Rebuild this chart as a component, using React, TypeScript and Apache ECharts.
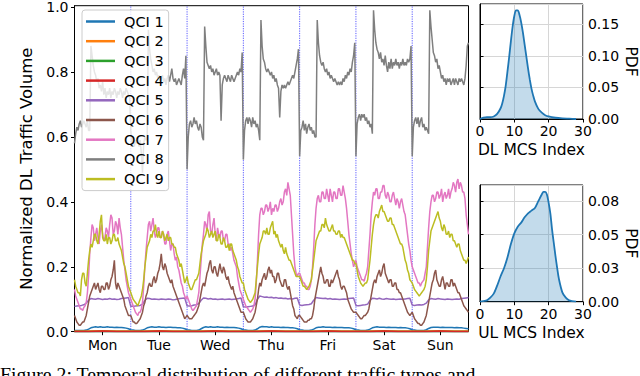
import React, { useEffect, useRef } from 'react';
import * as echarts from 'echarts';

const DAYS = ['Mon', 'Tue', 'Wed', 'Thu', 'Fri', 'Sat', 'Sun'];
const DAY_CENTERS = [12, 36, 60, 84, 108, 132, 156];
const DAY_BOUNDS = [24, 48, 72, 96, 120, 144];
const QCI_NAMES = ['QCI 1', 'QCI 2', 'QCI 3', 'QCI 4', 'QCI 5', 'QCI 6', 'QCI 7', 'QCI 8', 'QCI 9'];
const COLORS = ['#1f77b4', '#ff7f0e', '#2ca02c', '#d62728', '#9467bd', '#8c564b', '#e377c2', '#7f7f7f', '#bcbd22'];
const MAIN_Y_TICKS = [0, 0.2, 0.4, 0.6, 0.8, 1.0];
const UL_TICK_LABELS = ['0.00', '0.03', '0.05', '0.08'];

// hourly values (7 days x 24 + 1)
const qci1 = [
  0.004,0.004,0.004,0.004,0.004,0.005,0.008,0.012,0.014,0.015,0.014,0.015,0.014,0.014,0.015,0.014,0.014,0.013,0.014,0.013,0.013,0.012,0.011,0.009,
  0.006,0.005,0.004,0.004,0.004,0.005,0.008,0.012,0.014,0.015,0.014,0.014,0.015,0.014,0.014,0.013,0.014,0.014,0.013,0.013,0.012,0.012,0.011,0.009,
  0.006,0.005,0.004,0.004,0.004,0.005,0.009,0.013,0.015,0.014,0.015,0.014,0.014,0.015,0.014,0.014,0.013,0.014,0.013,0.013,0.013,0.012,0.011,0.009,
  0.006,0.005,0.004,0.004,0.004,0.005,0.009,0.014,0.016,0.015,0.015,0.014,0.015,0.014,0.014,0.014,0.013,0.014,0.013,0.013,0.012,0.012,0.011,0.009,
  0.006,0.005,0.004,0.004,0.004,0.005,0.008,0.012,0.014,0.014,0.015,0.014,0.014,0.014,0.013,0.014,0.013,0.013,0.013,0.012,0.012,0.012,0.011,0.009,
  0.006,0.005,0.004,0.004,0.004,0.005,0.008,0.012,0.014,0.015,0.014,0.014,0.014,0.013,0.014,0.013,0.013,0.013,0.012,0.013,0.012,0.012,0.011,0.009,
  0.006,0.005,0.004,0.004,0.004,0.004,0.006,0.010,0.013,0.014,0.014,0.014,0.013,0.014,0.013,0.013,0.013,0.013,0.012,0.013,0.012,0.012,0.011,0.010,
  0.009,
];

// every 6 hours
const qci2 = [0.002,0.002,0.003,0.002,0.002,0.002,0.003,0.002,0.002,0.002,0.003,0.002,0.002,0.002,0.003,0.002,0.002,0.002,0.003,0.002,0.002,0.002,0.003,0.002,0.002,0.002,0.003,0.002,0.002];
const qci3 = [0.001,0.001,0.001,0.001,0.001,0.001,0.001,0.001,0.001,0.001,0.001,0.001,0.001,0.001,0.001,0.001,0.001,0.001,0.001,0.001,0.001,0.001,0.001,0.001,0.001,0.001,0.001,0.001,0.001];
const qci4 = [0.001,0.001,0.002,0.001,0.001,0.001,0.002,0.001,0.001,0.001,0.002,0.001,0.001,0.001,0.002,0.001,0.001,0.001,0.002,0.001,0.001,0.001,0.002,0.001,0.001,0.001,0.002,0.001,0.001];

// hourly
const qci5 = [
  0.078,0.079,0.080,0.081,0.083,0.088,0.097,0.102,0.101,0.100,0.102,0.101,0.099,0.101,0.100,0.102,0.100,0.101,0.099,0.100,0.102,0.103,0.104,0.105,
  0.078,0.078,0.079,0.080,0.081,0.085,0.096,0.103,0.102,0.100,0.101,0.100,0.099,0.101,0.100,0.099,0.101,0.100,0.098,0.099,0.101,0.102,0.103,0.104,
  0.080,0.079,0.080,0.082,0.083,0.087,0.097,0.104,0.103,0.101,0.102,0.100,0.101,0.099,0.100,0.101,0.099,0.100,0.101,0.099,0.100,0.101,0.102,0.104,
  0.077,0.076,0.077,0.078,0.079,0.083,0.100,0.110,0.108,0.106,0.107,0.105,0.106,0.104,0.105,0.103,0.104,0.102,0.103,0.101,0.102,0.101,0.103,0.104,
  0.082,0.081,0.082,0.083,0.084,0.086,0.097,0.105,0.104,0.103,0.102,0.103,0.101,0.102,0.100,0.101,0.100,0.099,0.100,0.101,0.100,0.102,0.103,0.104,
  0.081,0.080,0.081,0.082,0.083,0.085,0.096,0.103,0.102,0.101,0.103,0.101,0.100,0.102,0.101,0.100,0.101,0.099,0.100,0.101,0.100,0.101,0.102,0.103,
  0.082,0.081,0.082,0.083,0.082,0.084,0.088,0.098,0.102,0.101,0.100,0.102,0.101,0.100,0.099,0.101,0.100,0.099,0.100,0.101,0.100,0.102,0.103,0.104,
  0.105,
];

// half-hourly (7 days x 48 + 1)
const qci6 = [
  0.05,0.04,0.03,0.025,0.02,0.02,0.025,0.03,0.03,0.04,0.05,0.07,0.09,0.11,0.12,0.13,0.14,0.15,0.13,0.14,0.15,0.13,0.12,0.14,0.14,0.13,0.13,0.15,0.15,0.13,0.14,0.16,0.17,0.19,0.22,0.15,0.13,0.15,0.14,0.13,0.12,0.11,0.10,0.08,0.07,0.06,0.05,0.05,
  0.05,0.04,0.03,0.03,0.025,0.025,0.03,0.035,0.04,0.05,0.06,0.08,0.09,0.11,0.12,0.14,0.15,0.14,0.14,0.16,0.17,0.15,0.16,0.18,0.19,0.21,0.24,0.20,0.19,0.21,0.20,0.18,0.17,0.16,0.15,0.16,0.14,0.13,0.12,0.11,0.10,0.09,0.08,0.07,0.06,0.05,0.04,0.045,
  0.05,0.045,0.04,0.04,0.04,0.045,0.05,0.055,0.06,0.07,0.08,0.10,0.12,0.14,0.15,0.14,0.16,0.18,0.19,0.21,0.22,0.19,0.18,0.20,0.20,0.18,0.17,0.19,0.21,0.19,0.18,0.20,0.19,0.17,0.16,0.17,0.15,0.14,0.13,0.14,0.12,0.11,0.10,0.09,0.08,0.07,0.06,0.06,
  0.06,0.05,0.04,0.035,0.03,0.03,0.03,0.035,0.04,0.05,0.06,0.08,0.10,0.13,0.15,0.14,0.16,0.17,0.18,0.16,0.17,0.19,0.20,0.18,0.19,0.17,0.17,0.15,0.16,0.18,0.18,0.16,0.15,0.14,0.14,0.16,0.16,0.14,0.13,0.14,0.12,0.10,0.08,0.07,0.05,0.045,0.04,0.05,
  0.05,0.045,0.04,0.035,0.03,0.03,0.03,0.035,0.035,0.04,0.04,0.05,0.07,0.10,0.12,0.14,0.16,0.18,0.20,0.18,0.17,0.15,0.15,0.16,0.16,0.14,0.14,0.16,0.15,0.16,0.17,0.18,0.19,0.17,0.16,0.14,0.13,0.14,0.14,0.13,0.12,0.10,0.09,0.08,0.07,0.065,0.06,0.06,
  0.06,0.055,0.05,0.045,0.04,0.04,0.045,0.05,0.05,0.055,0.06,0.07,0.09,0.11,0.13,0.15,0.16,0.15,0.17,0.18,0.19,0.17,0.18,0.20,0.21,0.18,0.17,0.16,0.15,0.16,0.16,0.14,0.14,0.15,0.15,0.13,0.13,0.12,0.12,0.11,0.10,0.09,0.08,0.07,0.06,0.055,0.05,0.055,
  0.06,0.05,0.04,0.035,0.03,0.025,0.025,0.02,0.02,0.025,0.03,0.04,0.05,0.07,0.09,0.11,0.13,0.15,0.16,0.18,0.19,0.16,0.15,0.14,0.14,0.16,0.17,0.15,0.13,0.15,0.15,0.14,0.14,0.16,0.16,0.14,0.15,0.14,0.13,0.12,0.12,0.11,0.10,0.09,0.08,0.075,0.07,0.065,
  0.06,
];

const qci7 = [
  0.13,0.11,0.10,0.09,0.08,0.07,0.07,0.065,0.075,0.08,0.09,0.12,0.17,0.24,0.29,0.33,0.32,0.28,0.30,0.32,0.29,0.27,0.31,0.33,0.30,0.28,0.29,0.32,0.31,0.29,0.33,0.36,0.35,0.30,0.31,0.34,0.33,0.30,0.35,0.32,0.30,0.26,0.22,0.19,0.16,0.14,0.12,0.11,
  0.10,0.09,0.08,0.07,0.06,0.055,0.05,0.06,0.06,0.07,0.09,0.14,0.20,0.25,0.29,0.33,0.34,0.31,0.33,0.35,0.31,0.29,0.30,0.32,0.32,0.29,0.29,0.31,0.30,0.27,0.27,0.30,0.31,0.28,0.25,0.27,0.27,0.24,0.22,0.23,0.20,0.19,0.17,0.15,0.14,0.12,0.11,0.10,
  0.11,0.10,0.09,0.08,0.07,0.065,0.07,0.075,0.08,0.10,0.12,0.17,0.22,0.27,0.30,0.34,0.33,0.31,0.36,0.37,0.31,0.30,0.33,0.35,0.30,0.28,0.32,0.30,0.29,0.31,0.31,0.28,0.28,0.30,0.30,0.27,0.27,0.25,0.26,0.24,0.22,0.21,0.20,0.17,0.15,0.13,0.12,0.11,
  0.10,0.09,0.08,0.075,0.07,0.065,0.06,0.065,0.07,0.08,0.10,0.15,0.22,0.30,0.36,0.38,0.38,0.36,0.37,0.39,0.39,0.37,0.38,0.40,0.36,0.38,0.37,0.39,0.39,0.37,0.38,0.40,0.41,0.39,0.40,0.43,0.44,0.42,0.46,0.44,0.42,0.36,0.30,0.24,0.20,0.18,0.17,0.18,
  0.18,0.17,0.16,0.15,0.15,0.14,0.14,0.13,0.13,0.14,0.16,0.20,0.26,0.33,0.38,0.41,0.42,0.40,0.40,0.43,0.43,0.41,0.41,0.44,0.42,0.40,0.44,0.42,0.40,0.43,0.43,0.41,0.41,0.44,0.44,0.42,0.42,0.45,0.43,0.41,0.38,0.34,0.30,0.27,0.24,0.22,0.20,0.21,
  0.22,0.20,0.19,0.18,0.17,0.16,0.16,0.155,0.17,0.18,0.20,0.25,0.30,0.36,0.40,0.43,0.42,0.44,0.44,0.41,0.41,0.43,0.43,0.45,0.45,0.42,0.41,0.43,0.42,0.40,0.40,0.42,0.43,0.41,0.39,0.41,0.40,0.38,0.40,0.41,0.39,0.37,0.36,0.33,0.30,0.27,0.25,0.22,
  0.20,0.19,0.18,0.17,0.16,0.15,0.15,0.14,0.15,0.155,0.16,0.18,0.20,0.26,0.32,0.37,0.40,0.42,0.42,0.40,0.41,0.43,0.43,0.41,0.42,0.44,0.40,0.42,0.43,0.41,0.42,0.44,0.41,0.43,0.44,0.46,0.45,0.43,0.46,0.47,0.44,0.46,0.45,0.43,0.43,0.41,0.36,0.33,
  0.30,
];

const qci8 = [
  0.58,0.61,0.63,0.62,0.64,0.65,0.63,0.64,0.65,0.64,0.63,0.65,0.62,0.62,0.88,0.85,0.82,0.80,0.79,0.77,0.78,0.75,0.76,0.74,0.77,0.73,0.75,0.72,0.74,0.73,0.75,0.72,0.74,0.73,0.75,0.74,0.72,0.74,0.73,0.75,0.74,0.72,0.74,0.73,0.75,0.74,0.73,0.72,
  0.62,0.58,0.60,0.57,0.59,0.58,0.60,0.57,0.59,0.55,0.49,0.58,0.60,0.59,0.60,0.93,0.87,0.84,0.82,0.80,0.81,0.79,0.80,0.78,0.79,0.77,0.78,0.79,0.77,0.78,0.76,0.78,0.79,0.77,0.79,0.81,0.78,0.77,0.78,0.76,0.77,0.78,0.77,0.76,0.79,0.81,0.78,0.85,
  0.50,0.60,0.64,0.65,0.63,0.64,0.66,0.64,0.65,0.63,0.62,0.64,0.63,0.60,0.59,0.94,0.88,0.83,0.82,0.81,0.82,0.80,0.81,0.79,0.80,0.81,0.79,0.80,0.79,0.65,0.76,0.78,0.79,0.78,0.77,0.79,0.78,0.77,0.79,0.78,0.77,0.78,0.79,0.80,0.79,0.81,0.80,0.86,
  0.53,0.62,0.65,0.66,0.64,0.66,0.65,0.63,0.66,0.64,0.65,0.63,0.64,0.62,0.59,0.96,0.88,0.84,0.83,0.81,0.80,0.81,0.80,0.79,0.80,0.78,0.79,0.77,0.78,0.76,0.75,0.66,0.74,0.76,0.75,0.76,0.75,0.76,0.77,0.76,0.77,0.78,0.79,0.78,0.80,0.82,0.84,0.87,
  0.54,0.62,0.63,0.65,0.62,0.64,0.61,0.63,0.64,0.62,0.63,0.61,0.62,0.60,0.60,0.96,0.89,0.85,0.83,0.82,0.83,0.81,0.80,0.81,0.79,0.80,0.78,0.79,0.78,0.77,0.78,0.77,0.76,0.77,0.76,0.77,0.76,0.78,0.77,0.79,0.78,0.80,0.79,0.81,0.80,0.83,0.85,0.89,
  0.54,0.64,0.66,0.67,0.65,0.67,0.66,0.67,0.65,0.66,0.64,0.65,0.63,0.64,0.61,0.99,0.93,0.89,0.87,0.86,0.84,0.86,0.83,0.84,0.82,0.85,0.82,0.80,0.83,0.81,0.84,0.81,0.83,0.82,0.84,0.82,0.83,0.81,0.83,0.82,0.84,0.82,0.83,0.82,0.84,0.83,0.84,0.88,
  0.54,0.63,0.65,0.66,0.64,0.66,0.63,0.65,0.66,0.63,0.64,0.62,0.63,0.62,0.61,0.99,0.94,0.90,0.86,0.85,0.83,0.84,0.81,0.82,0.80,0.78,0.79,0.77,0.78,0.76,0.78,0.77,0.78,0.76,0.77,0.78,0.76,0.78,0.77,0.76,0.78,0.77,0.78,0.77,0.76,0.78,0.82,0.88,
  0.89,
];

const qci9 = [
  0.16,0.14,0.13,0.12,0.12,0.11,0.16,0.18,0.18,0.15,0.14,0.18,0.22,0.25,0.27,0.26,0.28,0.30,0.30,0.28,0.27,0.30,0.34,0.36,0.29,0.28,0.28,0.30,0.27,0.29,0.29,0.27,0.28,0.30,0.30,0.28,0.28,0.29,0.27,0.26,0.25,0.23,0.21,0.20,0.18,0.16,0.14,0.13,
  0.12,0.11,0.10,0.095,0.09,0.085,0.08,0.09,0.10,0.11,0.13,0.16,0.20,0.23,0.26,0.27,0.28,0.30,0.29,0.31,0.31,0.33,0.30,0.29,0.31,0.29,0.29,0.31,0.30,0.28,0.29,0.30,0.28,0.29,0.29,0.27,0.27,0.26,0.26,0.24,0.23,0.22,0.20,0.21,0.19,0.17,0.15,0.16,
  0.17,0.15,0.14,0.13,0.13,0.14,0.15,0.16,0.16,0.17,0.18,0.21,0.24,0.26,0.28,0.29,0.30,0.32,0.31,0.29,0.30,0.31,0.29,0.30,0.31,0.28,0.28,0.30,0.29,0.27,0.27,0.29,0.28,0.26,0.26,0.27,0.25,0.27,0.27,0.25,0.24,0.23,0.22,0.20,0.19,0.17,0.16,0.15,
  0.15,0.13,0.12,0.11,0.10,0.095,0.09,0.095,0.10,0.11,0.12,0.16,0.20,0.24,0.27,0.28,0.29,0.31,0.31,0.30,0.32,0.30,0.30,0.32,0.33,0.34,0.30,0.31,0.29,0.30,0.28,0.27,0.26,0.27,0.25,0.24,0.26,0.24,0.23,0.22,0.22,0.21,0.20,0.19,0.18,0.17,0.17,0.17,
  0.17,0.16,0.15,0.14,0.14,0.135,0.13,0.135,0.14,0.15,0.16,0.19,0.22,0.25,0.28,0.29,0.30,0.31,0.31,0.33,0.33,0.32,0.35,0.33,0.32,0.31,0.31,0.32,0.33,0.31,0.31,0.30,0.30,0.31,0.31,0.29,0.30,0.29,0.29,0.28,0.27,0.26,0.25,0.24,0.23,0.22,0.22,0.21,
  0.21,0.19,0.17,0.16,0.15,0.145,0.14,0.145,0.15,0.15,0.16,0.19,0.22,0.26,0.30,0.33,0.35,0.36,0.36,0.35,0.37,0.38,0.39,0.37,0.37,0.36,0.35,0.34,0.34,0.35,0.35,0.33,0.33,0.32,0.31,0.30,0.29,0.28,0.27,0.27,0.26,0.24,0.22,0.21,0.19,0.18,0.16,0.155,
  0.15,0.14,0.13,0.125,0.12,0.115,0.11,0.115,0.12,0.125,0.13,0.14,0.16,0.20,0.25,0.28,0.31,0.32,0.33,0.34,0.35,0.36,0.37,0.35,0.34,0.32,0.31,0.33,0.32,0.30,0.30,0.31,0.29,0.30,0.30,0.28,0.28,0.27,0.26,0.27,0.27,0.25,0.24,0.23,0.22,0.22,0.21,0.22,
  0.23,
];

// MCS index densities
const DL_X = [0,1,2,3,4,5,6,6.5,7,7.5,8,8.5,9,9.5,10,10.5,11,11.5,12,12.5,13,13.5,14,14.5,15,15.5,16,17,18,19,20,22,24,26,28];
const DL_PDF = [0.000,0.002,0.003,0.003,0.004,0.008,0.017,0.025,0.037,0.053,0.075,0.098,0.123,0.146,0.163,0.172,0.172,0.165,0.153,0.137,0.118,0.099,0.080,0.063,0.048,0.037,0.028,0.016,0.010,0.006,0.004,0.002,0.001,0.0005,0.000];
const UL_X = [0,1,2,3,4,5,6,7,8,9,10,11,12,13,14,15,16,17,18,18.5,19,19.5,20,20.5,21,21.5,22,22.5,23,24,25,26,28];
const UL_PDF = [0.000,0.0005,0.001,0.003,0.006,0.012,0.019,0.025,0.033,0.043,0.051,0.056,0.059,0.063,0.066,0.068,0.070,0.075,0.080,0.082,0.082,0.080,0.074,0.066,0.054,0.044,0.034,0.025,0.017,0.007,0.003,0.001,0.000];

const QCI_DATA = [qci1, qci2, qci3, qci4, qci5, qci6, qci7, qci8, qci9];

const toXY = (arr: number[]) => arr.map((v, i) => [(i * 168) / (arr.length - 1), v]);

const isMultiple = (v: number, step: number) => Math.abs(v / step - Math.round(v / step)) < 1e-6;

const MAIN_Y_MAX = 1.004;

function buildOption(): any {
  const black = '#000';
  const tickFont = 14;
  const smallX = (gi: number, name: string) => ({
    gridIndex: gi,
    type: 'value',
    min: 0,
    max: 30,
    interval: 10,
    axisLine: { show: true, lineStyle: { color: black, width: 1 } },
    axisTick: { show: true, length: 3.5, lineStyle: { color: black } },
    axisLabel: { fontSize: tickFont, color: black, margin: 5 },
    splitLine: { show: true, lineStyle: { color: '#d6d6d6', width: 1 } },
    name,
    nameLocation: 'middle',
    nameGap: 23,
    nameTextStyle: { fontSize: 15.5, color: black },
  });
  const smallY = (gi: number, max: number, step: number, fmt: (v: number) => string) => ({
    gridIndex: gi,
    type: 'value',
    position: 'right',
    min: 0,
    max,
    interval: step,
    axisLine: { show: true, lineStyle: { color: black, width: 1 } },
    axisTick: { show: true, length: 3.5, lineStyle: { color: black } },
    axisLabel: { fontSize: tickFont, color: black, margin: 5, showMaxLabel: false, formatter: (v: number) => (isMultiple(v, step) ? fmt(v) : '') },
    splitLine: { show: true, lineStyle: { color: '#d6d6d6', width: 1 } },
    name: 'PDF',
    nameLocation: 'middle',
    nameRotate: -90,
    nameGap: 40,
    nameTextStyle: { fontSize: 15.5, color: black },
  });

  const dividerSeries = DAY_BOUNDS.map((b) => ({
    type: 'line',
    xAxisIndex: 0,
    yAxisIndex: 0,
    data: [
      [b, 0],
      [b, MAIN_Y_MAX],
    ],
    showSymbol: false,
    symbol: 'none',
    silent: true,
    color: '#5a5aff',
    lineStyle: { width: 1, color: '#5a5aff', type: [1.2, 1.2] },
    emphasis: { disabled: true },
  }));

  const qciSeries = QCI_NAMES.map((name, i) => ({
    name,
    type: 'line',
    xAxisIndex: 0,
    yAxisIndex: 0,
    data: toXY(QCI_DATA[i]),
    showSymbol: false,
    symbol: 'none',
    color: COLORS[i],
    lineStyle: { width: 1.5, color: COLORS[i] },
    emphasis: { disabled: true },
  }));

  const kde = (xi: number, xs: number[], ys: number[]) => ({
    type: 'line',
    xAxisIndex: xi,
    yAxisIndex: xi,
    data: xs.map((x, i) => [x, ys[i]]),
    showSymbol: false,
    symbol: 'none',
    smooth: 0.3,
    color: '#1f77b4',
    lineStyle: { width: 1.8, color: '#1f77b4' },
    areaStyle: { color: 'rgba(31,119,180,0.38)' },
    emphasis: { disabled: true },
  });

  return {
    animation: false,
    textStyle: { fontFamily: 'DejaVu Sans' },
    grid: [
      { left: 74.5, top: 4, width: 394, height: 327.7, show: true, borderColor: black, borderWidth: 1 },
      { left: 480, top: 4, width: 105, height: 115, show: true, borderColor: black, borderWidth: 1 },
      { left: 480, top: 185, width: 105, height: 116.7, show: true, borderColor: black, borderWidth: 1 },
    ],
    legend: {
      data: QCI_NAMES,
      orient: 'vertical',
      left: 82,
      top: 10,
      icon: 'rect',
      itemWidth: 29,
      itemHeight: 2.5,
      itemGap: 4.7,
      padding: [4, 5, 4, 4],
      backgroundColor: 'rgba(255,255,255,0.8)',
      borderColor: '#cccccc',
      borderWidth: 1,
      borderRadius: 3,
      textStyle: { fontSize: 14.5, color: black, padding: [0, 0, 0, 4] },
    },
    xAxis: [
      {
        gridIndex: 0,
        type: 'value',
        min: 0,
        max: 168,
        axisLine: { show: true, lineStyle: { color: black, width: 1 } },
        axisTick: { show: true, length: 3.5, customValues: DAY_CENTERS, lineStyle: { color: black } },
        axisLabel: {
          fontSize: tickFont,
          color: black,
          margin: 6,
          customValues: DAY_CENTERS,
          formatter: (v: number) => DAYS[Math.round((v - 12) / 24)] ?? '',
        },
        splitLine: { show: false },
      },
      smallX(1, 'DL MCS Index'),
      smallX(2, 'UL MCS Index'),
    ],
    yAxis: [
      {
        gridIndex: 0,
        type: 'value',
        min: 0,
        max: MAIN_Y_MAX,
        interval: 0.2,
        axisLine: { show: true, lineStyle: { color: black, width: 1 } },
        axisTick: { show: true, length: 3.5, customValues: MAIN_Y_TICKS, lineStyle: { color: black } },
        axisLabel: {
          fontSize: tickFont,
          color: black,
          margin: 6,
          customValues: MAIN_Y_TICKS,
          formatter: (v: number) => (isMultiple(v, 0.2) ? v.toFixed(1) : ''),
        },
        splitLine: { show: false },
        name: 'Normalized DL Traffic Volume',
        nameLocation: 'middle',
        nameGap: 28,
        nameTextStyle: { fontSize: 16.5, color: black },
      },
      smallY(1, 0.182, 0.05, (v) => v.toFixed(2)),
      smallY(2, 0.0871, 0.025, (v) => UL_TICK_LABELS[Math.round(v / 0.025)] ?? ''),
    ],
    series: [...dividerSeries, ...qciSeries, kde(1, DL_X, DL_PDF), kde(2, UL_X, UL_PDF)],
    graphic: [
      {
        type: 'text',
        left: 0,
        top: 364,
        style: {
          text: 'Figure 2: Temporal distribution of different traffic types and',
          font: '19.8px "Liberation Serif"',
          fill: '#000',
        },
      },
    ],
  };
}

export default function App() {
  const ref = useRef<HTMLDivElement>(null);
  useEffect(() => {
    if (!ref.current) return;
    const chart = echarts.init(ref.current, null, { renderer: 'svg' });
    chart.setOption(buildOption());
    return () => chart.dispose();
  }, []);
  return <div ref={ref} style={{ position: 'absolute', left: 0, top: 0, width: 640, height: 376, background: '#fff' }} />;
}
